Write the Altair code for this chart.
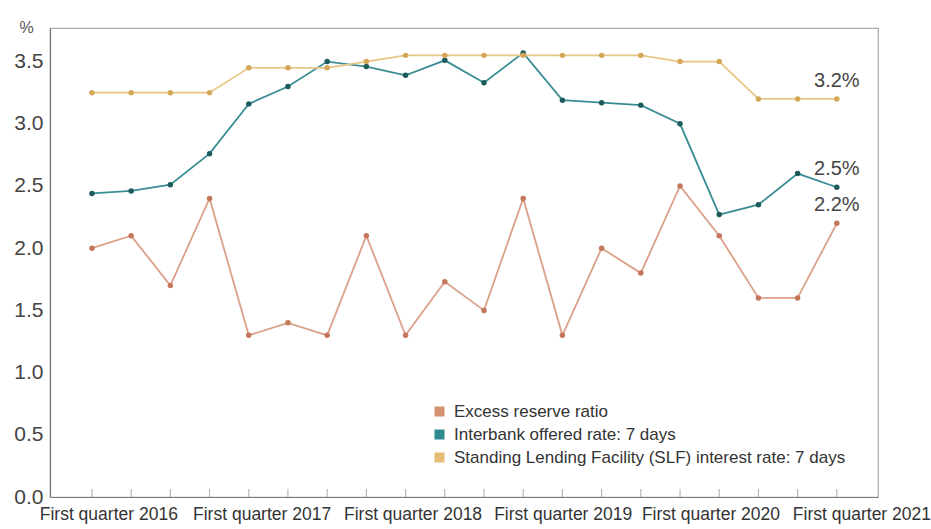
import altair as alt
import pandas as pd

# Data: 20 quarters, last = First quarter 2021
series_names = [
    "Excess reserve ratio",
    "Interbank offered rate: 7 days",
    "Standing Lending Facility (SLF) interest rate: 7 days",
]
excess = [2.0, 2.1, 1.7, 2.4, 1.3, 1.4, 1.3, 2.1, 1.3, 1.73,
          1.5, 2.4, 1.3, 2.0, 1.8, 2.5, 2.1, 1.6, 1.6, 2.2]
interbank = [2.44, 2.46, 2.51, 2.76, 3.16, 3.30, 3.50, 3.46, 3.39, 3.51,
             3.33, 3.57, 3.19, 3.17, 3.15, 3.00, 2.27, 2.35, 2.60, 2.49]
slf = [3.25, 3.25, 3.25, 3.25, 3.45, 3.45, 3.45, 3.50, 3.55, 3.55,
       3.55, 3.55, 3.55, 3.55, 3.55, 3.50, 3.50, 3.20, 3.20, 3.20]

x_label_text = ["First quarter 2016", "First quarter 2017", "First quarter 2018",
                "First quarter 2019", "First quarter 2020", "First quarter 2021"]
x_label_pos = [0.43, 4.34, 8.19, 12.02, 15.79, 19.64]

y_ticks = [0.0, 0.5, 1.0, 1.5, 2.0, 2.5, 3.0, 3.5]

line_colors = ["#dba088", "#3a8e93", "#e8c685"]
dot_colors = ["#c4775a", "#1d5a5c", "#d4a655"]
legend_colors = ["#d4906f", "#2f8b8f", "#e6bd72"]

FONT = "Liberation Sans, Arial, sans-serif"

rows = []
for name, vals in zip(series_names, [excess, interbank, slf]):
    for i, v in enumerate(vals):
        rows.append({"q": i, "series": name, "value": v})
df = pd.DataFrame(rows)
labels_df = pd.DataFrame({"pos": x_label_pos, "text": x_label_text, "zero": 0.0})
ticks_df = pd.DataFrame({"q": list(range(len(excess))), "zero": 0.0})

x_scale = alt.Scale(domain=[-1.07, 20.05], nice=False, zero=False)
y_scale = alt.Scale(domain=[0, 3.77], nice=False)

x_axis = alt.Axis(labels=False, ticks=False, grid=False, title=None,
                  domainColor="#777777", domainWidth=1.2)
y_axis = alt.Axis(values=y_ticks, format=".1f", grid=False, ticks=False,
                  title="%", titleAngle=0, titleX=-24, titleY=4,
                  titleAlign="center", titleBaseline="alphabetic",
                  titleFont=FONT, titleFontSize=16, titleFontWeight="normal",
                  titleColor="#555555",
                  labelFont=FONT, labelFontSize=21, labelColor="#444444",
                  labelPadding=7, domainColor="#777777", domainWidth=1.2)

stroke_scale = alt.Scale(domain=series_names, range=line_colors)
fill_scale = alt.Scale(domain=series_names, range=dot_colors)
legend_scale = alt.Scale(domain=series_names, range=legend_colors)

legend = alt.Legend(
    title=None, orient="none", legendX=381, legendY=375,
    symbolType="square", symbolSize=100, symbolStrokeWidth=0, symbolOpacity=1,
    labelFont=FONT, labelFontSize=17, labelColor="#333333", labelLimit=600,
    rowPadding=5, labelOffset=6,
)

base = alt.Chart(df)

lines = base.mark_line(strokeWidth=1.8).encode(
    x=alt.X("q:Q", scale=x_scale, axis=x_axis),
    y=alt.Y("value:Q", scale=y_scale, axis=y_axis),
    stroke=alt.Stroke("series:N", scale=stroke_scale, legend=None),
    order="q:Q",
)

# tiny squares hidden beneath the dots; they carry the legend
legend_layer = base.mark_square(size=8, opacity=1).encode(
    x="q:Q",
    y="value:Q",
    color=alt.Color("series:N", scale=legend_scale, legend=legend, sort=series_names),
)

points = base.mark_point(filled=True, size=30, opacity=1).encode(
    x="q:Q",
    y="value:Q",
    fill=alt.Fill("series:N", scale=fill_scale, legend=None),
)

ticks = alt.Chart(ticks_df).mark_tick(orient="vertical", size=8, thickness=1,
                                      color="#888888", yOffset=-4).encode(
    x="q:Q",
    y="zero:Q",
)

xlabels = alt.Chart(labels_df).mark_text(
    font=FONT, fontSize=17.5, color="#333333", baseline="top", align="center", dy=9
).encode(
    x="pos:Q",
    y="zero:Q",
    text="text:N",
)

end_labels = base.transform_filter(
    alt.datum.q == len(excess) - 1
).transform_calculate(
    label="format(datum.value, '.1f') + '%'"
).mark_text(font=FONT, fontSize=20, color="#444444", dy=-18, align="center").encode(
    x="q:Q",
    y="value:Q",
    text="label:N",
)

chart = alt.layer(lines, legend_layer, points, ticks, xlabels, end_labels).properties(
    width=828,
    height=469,
    autosize="none",
    padding={"left": 50, "top": 28, "right": 53, "bottom": 32},
    background="white",
).resolve_legend(color="independent").configure_view(stroke="#aaaaaa", strokeWidth=1.2)

chart.save("out.html", embed_options={"renderer": "svg", "actions": False})
